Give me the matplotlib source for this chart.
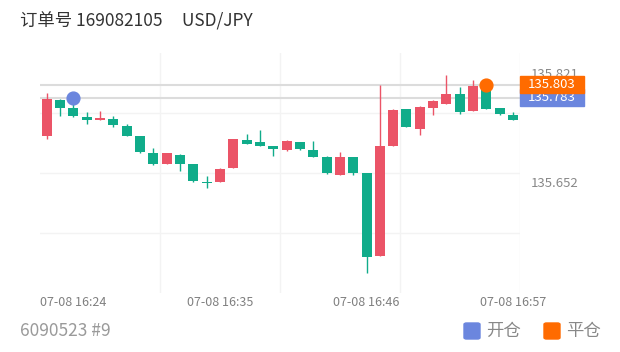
import numpy as np
import pandas as pd
import matplotlib
matplotlib.use("Agg")
import matplotlib.pyplot as plt
from matplotlib.patches import Rectangle, FancyBboxPatch
import matplotlib.transforms as mtransforms

plt.rcParams['font.family'] = ['Noto Sans CJK SC', 'DejaVu Sans']

# one-minute candles, 07-08 16:22 .. 16:57
start_time = '2023-07-08 16:22'
opens = [135.723, 135.780, 135.767, 135.753, 135.749, 135.750, 135.739, 135.723, 135.697, 135.681,
         135.695, 135.680, 135.653, 135.653, 135.674, 135.718, 135.714, 135.709, 135.702, 135.714,
         135.702, 135.692, 135.664, 135.691, 135.666, 135.538, 135.709, 135.765, 135.735, 135.767,
         135.774, 135.789, 135.762, 135.800, 135.767, 135.756]
highs = [135.790, 135.781, 135.777, 135.761, 135.762, 135.755, 135.742, 135.723, 135.705, 135.697,
         135.696, 135.681, 135.662, 135.674, 135.719, 135.727, 135.733, 135.709, 135.717, 135.715,
         135.716, 135.693, 135.699, 135.692, 135.667, 135.802, 135.765, 135.766, 135.770, 135.779,
         135.818, 135.800, 135.811, 135.803, 135.767, 135.761]
lows = [135.719, 135.755, 135.753, 135.743, 135.748, 135.738, 135.723, 135.698, 135.679, 135.681,
        135.670, 135.653, 135.644, 135.653, 135.674, 135.711, 135.709, 135.693, 135.701, 135.702,
        135.692, 135.665, 135.663, 135.663, 135.511, 135.538, 135.708, 135.737, 135.726, 135.756,
        135.774, 135.758, 135.762, 135.765, 135.757, 135.748]
closes = [135.781, 135.767, 135.754, 135.748, 135.751, 135.740, 135.724, 135.699, 135.680, 135.697,
          135.681, 135.654, 135.651, 135.673, 135.719, 135.711, 135.709, 135.704, 135.716, 135.703,
          135.692, 135.666, 135.692, 135.666, 135.537, 135.709, 135.764, 135.737, 135.769, 135.778,
          135.788, 135.761, 135.801, 135.765, 135.758, 135.748]

open_idx, open_price = 2, 135.783     # 开仓
close_idx, close_price = 33, 135.803  # 平仓
axis_prices = [135.821, 135.652]
tick_idx = [2, 13, 24, 35]

order_no = '169082105'
symbol = 'USD/JPY'
footer = '6090523 #9'

UP = '#EB5467'
DOWN = '#10AC8A'
BLUE = '#6B86DE'
ORANGE = '#FF6B00'

fig = plt.figure(figsize=(6.2, 3.52), dpi=100)
ax = fig.add_axes([40 / 620, 1 - 293 / 352, 480 / 620, 240 / 352])

n = len(opens)
x = np.arange(n)
o = np.array(opens)
c = np.array(closes)
colors = [UP if cc >= oo else DOWN for oo, cc in zip(o, c)]

ylo, yhi = 135.48073, 135.85220
ax.set_xlim(-0.51, n - 0.48)
ax.set_ylim(ylo, yhi)

# faint background grid
x0, x1 = ax.get_xlim()
for f in (0.25, 0.5, 0.75, 1.0):
    ax.axvline(x0 + f * (x1 - x0), color='#f3f3f3', lw=1, zorder=0)
for f in (0.25, 0.5, 0.75):
    ax.axhline(ylo + f * (yhi - ylo), color='#f3f3f3', lw=1, zorder=0)

# open / close price lines
ax.axhline(close_price, color='#dcdcdc', lw=1.5, zorder=1)
ax.axhline(open_price, color='#dcdcdc', lw=1.5, zorder=1)

# candles
ax.vlines(x, lows, highs, colors=colors, lw=1, zorder=2)
min_h = 0.0018
body_lo = np.minimum(o, c)
thin = np.abs(c - o) < min_h
body_h = np.where(thin, min_h, np.abs(c - o))
ax.bar(x, body_h, bottom=body_lo - np.where(thin, min_h / 2, 0), width=0.75,
       color=colors, zorder=3)

ax.scatter([open_idx], [open_price], s=85, color=BLUE, zorder=4)
ax.scatter([close_idx], [close_price], s=85, color=ORANGE, zorder=4)

# axes
for s in ax.spines.values():
    s.set_visible(False)
times = pd.Timestamp(start_time) + pd.to_timedelta(x, unit='min')
ax.set_xticks(tick_idx)
ax.set_xticklabels([times[i].strftime('%m-%d %H:%M') for i in tick_idx])
ax.tick_params(axis='x', length=0, pad=2, labelsize=9, labelcolor='#808080')
ax.yaxis.tick_right()
ax.set_yticks(axis_prices)
ax.set_yticklabels([f'{p:.3f}' for p in axis_prices])
ax.tick_params(axis='y', length=0, pad=8, labelsize=9.5, labelcolor='#888888')

# price tags on the right
trans = mtransforms.blended_transform_factory(ax.transAxes, ax.transData)
half = 8.5 * (yhi - ylo) / 240
tag_w = 64 / 480
for price, col, z in ((open_price, BLUE, 5), (close_price, ORANGE, 6)):
    ax.add_patch(Rectangle((1.0, price - half), tag_w, 2 * half, transform=trans,
                           color=col, clip_on=False, zorder=z))
    ax.text(1.0 + tag_w / 2, price, f'{price:.3f}', transform=trans, color='white',
            fontsize=9.5, ha='center', va='center', zorder=z, clip_on=False)

# header / footer
fig.text(20 / 620, 1 - 21 / 352, f'订单号 {order_no}     {symbol}', fontsize=12.5,
         color='#333333', va='center', ha='left')
fig.text(20 / 620, 1 - 331 / 352, footer, fontsize=12.5, color='#9a9a9a', va='center', ha='left')

for lx, col, label in ((464, BLUE, '开仓'), (544, ORANGE, '平仓')):
    fig.patches.append(FancyBboxPatch((lx / 620, 1 - 339 / 352), 16 / 620, 16 / 352,
                                      boxstyle='round,pad=0,rounding_size=0.004',
                                      transform=fig.transFigure, color=col))
    fig.text((lx + 22) / 620, 1 - 331 / 352, label, fontsize=12.5, color='#888888',
             va='center', ha='left')

fig.savefig('out.png', dpi=100)
